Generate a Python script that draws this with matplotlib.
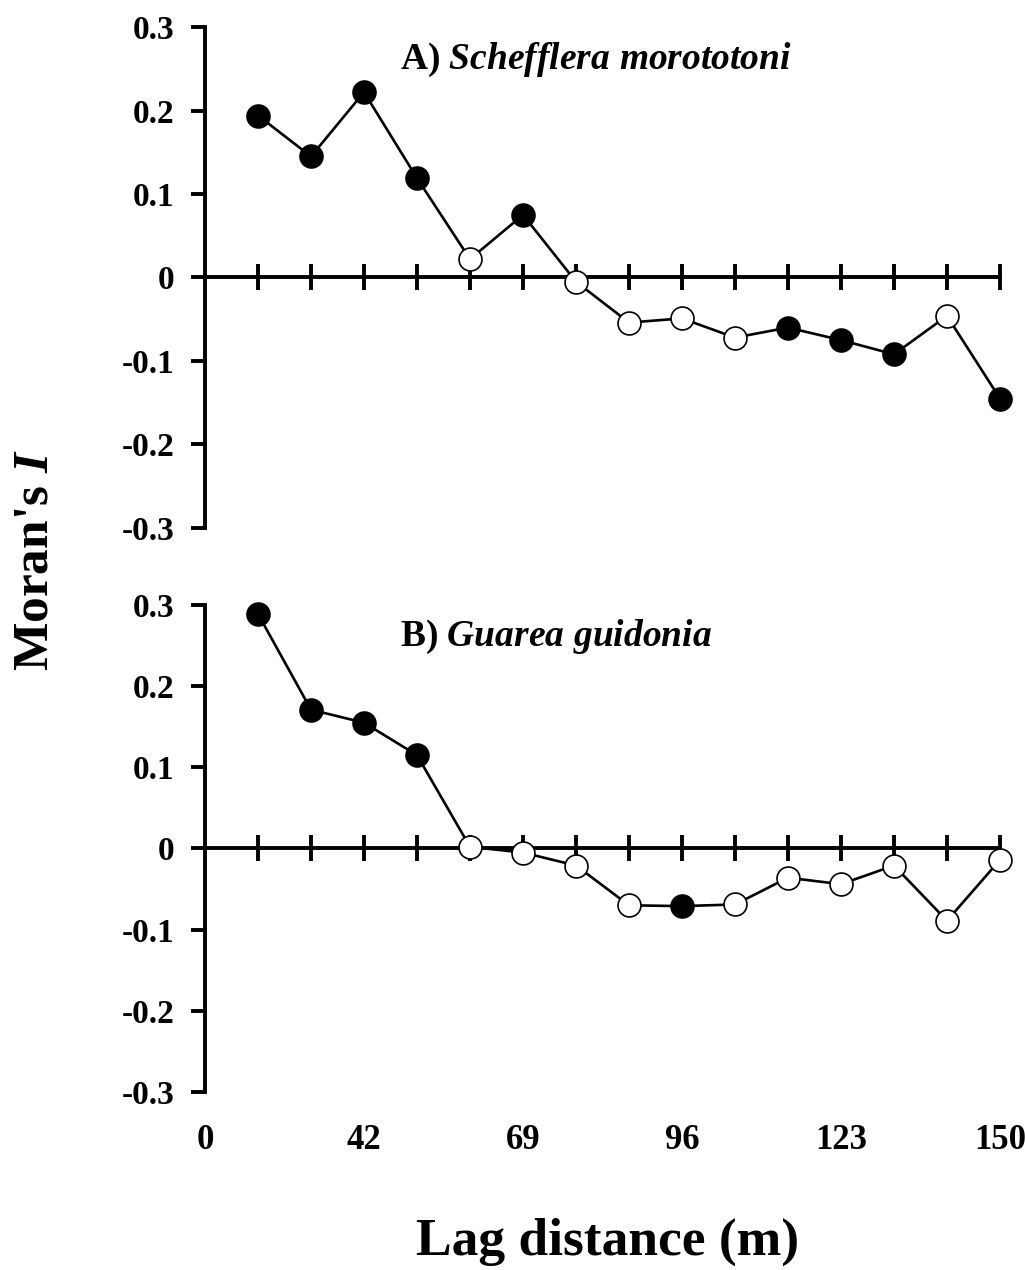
import numpy as np
import matplotlib
matplotlib.use("Agg")
import matplotlib.pyplot as plt

plt.rcParams['font.family'] = ['Liberation Serif', 'DejaVu Serif']
plt.rcParams['font.weight'] = 'bold'
plt.rcParams['mathtext.fontset'] = 'custom'
plt.rcParams['mathtext.rm'] = 'Liberation Serif:bold'
plt.rcParams['mathtext.it'] = 'Liberation Serif:bold:italic'

# distance classes (1..15), labels every third class
classes = np.arange(1, 16)
label_pos = [0, 3, 6, 9, 12, 15]
label_txt = ['0', '42', '69', '96', '123', '150']

# Moran's I per distance class, and whether the value is significant
moran_a = [0.194, 0.145, 0.222, 0.119, 0.022, 0.075, -0.005, -0.054,
           -0.049, -0.072, -0.060, -0.075, -0.092, -0.046, -0.145]
signif_a = [1, 1, 1, 1, 0, 1, 0, 0, 0, 0, 1, 1, 1, 0, 1]

moran_b = [0.289, 0.171, 0.155, 0.115, 0.002, -0.005, -0.021, -0.070,
           -0.071, -0.069, -0.036, -0.044, -0.021, -0.089, -0.014]
signif_b = [1, 1, 1, 1, 0, 0, 0, 0, 1, 0, 0, 0, 0, 0, 0]

fig = plt.figure(figsize=(10.25, 12.7), dpi=100)
ax_a = fig.add_axes([0.2, 0.5843, 0.7756, 0.3944])
ax_b = fig.add_axes([0.2, 0.1402, 0.7756, 0.3834])


def draw_panel(ax, vals, sig, title):
    vals = np.array(vals)
    sig = np.array(sig, dtype=bool)
    ax.plot(classes, vals, color='black', lw=1.9, zorder=3, clip_on=False)
    ax.plot(classes[sig], vals[sig], 'o', ms=16.5, mfc='black', mec='black',
            mew=1.2, zorder=4, clip_on=False)
    ax.plot(classes[~sig], vals[~sig], 'o', ms=16.5, mfc='white', mec='black',
            mew=1.2, zorder=4, clip_on=False)
    ax.set_xlim(0, 15)
    ax.set_ylim(-0.3, 0.3)
    for s in ['top', 'right']:
        ax.spines[s].set_visible(False)
    ax.spines['bottom'].set_position(('data', 0))
    ax.spines['bottom'].set_linewidth(2.8)
    ax.spines['left'].set_linewidth(2.8)
    ax.spines['left'].set_bounds(-0.3, 0.3)
    ax.set_xticks(classes)
    ax.set_xticklabels([])
    ax.tick_params(axis='x', direction='inout', length=19, width=2.8)
    ax.set_yticks([-0.3, -0.2, -0.1, 0, 0.1, 0.2, 0.3])
    ax.set_yticklabels(['-0.3', '-0.2', '-0.1', '0', '0.1', '0.2', '0.3'])
    ax.tick_params(axis='y', direction='out', length=10, width=2.8,
                   labelsize=24, pad=12)
    ax.text(0.245, 0.935, title, transform=ax.transAxes, fontsize=27,
            ha='left', va='center')


draw_panel(ax_a, moran_a, signif_a, r"A) $\mathit{Schefflera\ morototoni}$")
draw_panel(ax_b, moran_b, signif_b, r"B) $\mathit{Guarea\ guidonia}$")

# distance labels along the bottom of the lower panel
sec = ax_b.secondary_xaxis(0)
sec.spines['bottom'].set_visible(False)
sec.set_xticks(label_pos)
sec.set_xticklabels(label_txt)
sec.tick_params(length=0, labelsize=25, pad=23)

fig.text(0.593, 0.012, 'Lag distance (m)', fontsize=38.5, ha='center',
         va='baseline')
fig.text(0.035, 0.559, r"Moran's $\mathit{I}$", fontsize=37, rotation=90,
         ha='center', va='center')

fig.savefig('out.png', dpi=100)
